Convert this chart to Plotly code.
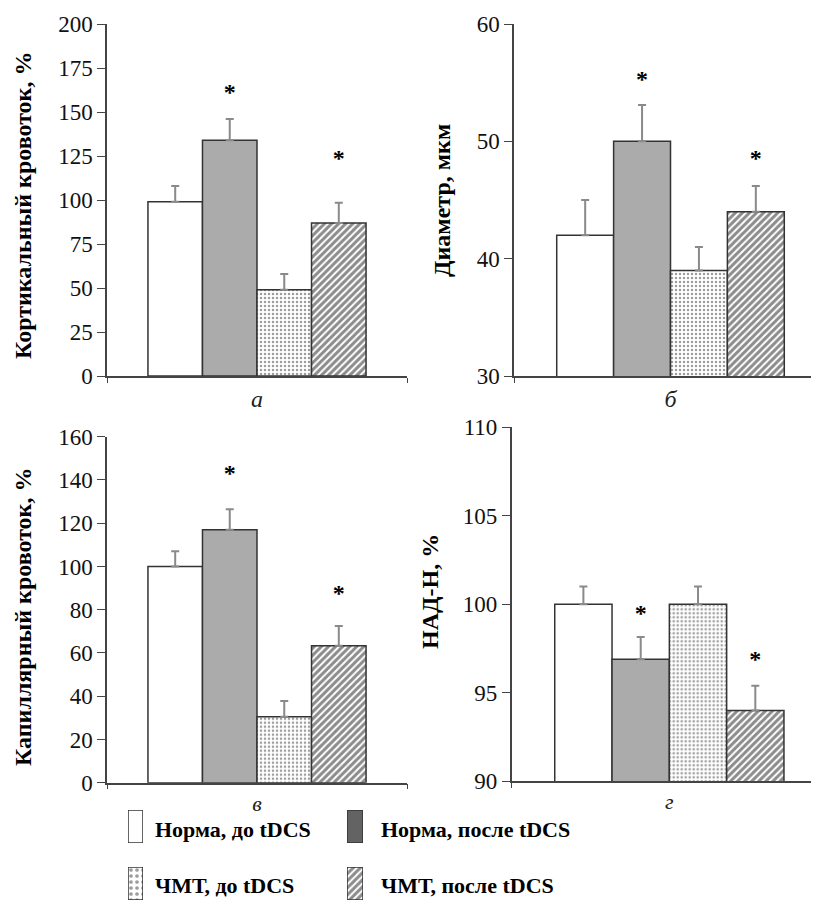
import plotly.graph_objects as go

W, H = 819, 903
OFF = 8  # page body margin in the browser

series_names = ["Норма, до tDCS", "Норма, после tDCS", "ЧМТ, до tDCS", "ЧМТ, после tDCS"]

# Panel а – cortical blood flow
cort_vals = [99, 134, 49, 87]
cort_err = [9, 12, 9, 11.5]
cort_star = [None, 160, None, 122.5]

# Panel б – diameter
diam_vals = [42, 50, 39, 44]
diam_err = [3, 3.1, 2, 2.2]
diam_star = [None, 55.1, None, 48.4]

# Panel в – capillary blood flow
cap_vals = [100, 117, 30.5, 63.3]
cap_err = [7, 9.5, 7.3, 9.2]
cap_star = [None, 142.3, None, 87]

# Panel г – NADH
nad_vals = [100, 96.9, 100, 94]
nad_err = [1, 1.25, 1, 1.4]
nad_star = [None, 99.4, None, 96.8]

panel_labels = ["а", "б", "в", "г"]
y_titles = ["Кортикальный кровоток, %", "Диаметр, мкм", "Капиллярный кровоток, %", "НАД-Н, %"]
y_ranges = [[0, 200], [30, 60], [0, 160], [90, 110]]
y_dticks = [25, 10, 20, 5]

FONT = "Liberation Serif, Times New Roman, DejaVu Serif, serif"
EDGE = "#333333"
styles = [
    dict(color="white", pattern=None),
    dict(color="#ababab", pattern=None),
    dict(color="white", pattern=dict(shape=".", fgcolor="#3a3a3a", bgcolor="white", size=4, solidity=0.3)),
    dict(color="white", pattern=dict(shape="/", fgcolor="#1a1a1a", bgcolor="white", size=5, solidity=0.6)),
]
legend_colors = ["white", "#636363", "white", "white"]

panels = [
    (cort_vals, cort_err, cort_star),
    (diam_vals, diam_err, diam_star),
    (cap_vals, cap_err, cap_star),
    (nad_vals, nad_err, nad_star),
]


def px(v):
    return v / W


def py(v):
    return 1 - v / H


# geometry (pixels in the screenshot)
x_dom_px = [(107, 407), (514, 827), (107, 407), (511.7, 827)]
y_dom_px = [(24, 376), (24, 376), (436.7, 782.7), (427.3, 781.3)]
x_ranges = [[-0.5, 0.5], [-0.5, 0.5], [-0.5, 0.5], [-0.5, 0.5]]

fig = go.Figure()

for p, (vals, errs, stars) in enumerate(panels):
    ax = "" if p == 0 else str(p + 1)
    for i in range(4):
        st = styles[i]
        marker = dict(color=st["color"], line=dict(color=EDGE, width=1.5))
        if st["pattern"]:
            marker["pattern"] = st["pattern"]
        fig.add_trace(go.Bar(
            x=[panel_labels[p]], y=[vals[i]], name=series_names[i],
            marker=marker, offsetgroup=str(i), showlegend=False,
            error_y=dict(type="data", array=[errs[i]], arrayminus=[0], symmetric=False,
                         color="#8a8a8a", thickness=2, width=4),
            xaxis="x" + ax, yaxis="y" + ax,
        ))
    for i in range(4):
        fig.add_trace(go.Scatter(
            x=[panel_labels[p]], y=[stars[i]], mode="text", text=["*"],
            textfont=dict(family=FONT, size=24, color="black", weight="bold"),
            offsetgroup=str(i), showlegend=False, hoverinfo="skip",
            xaxis="x" + ax, yaxis="y" + ax,
        ))

layout = dict(
    width=W, height=H, margin=dict(l=0, r=0, t=0, b=0, autoexpand=False),
    paper_bgcolor="white", plot_bgcolor="white",
    barmode="group", bargap=0.273, bargroupgap=0,
    scattermode="group", scattergap=0.273,
    font=dict(family=FONT, color="black"),
    showlegend=False,
)

annotations = []
for p in range(4):
    ax = "" if p == 0 else str(p + 1)
    x0, x1 = x_dom_px[p]
    y0, y1 = y_dom_px[p]
    layout["xaxis" + ax] = dict(
        domain=[px(x0 - OFF), px(x1 - OFF)], range=x_ranges[p], type="category",
        showline=True, linecolor="#444444", linewidth=1.5,
        ticks="outside", tickson="boundaries", ticklen=5, tickcolor="#444444",
        tickfont=dict(family=FONT, size=24 if p < 2 else 22, style="italic", color="#222222"),
        showgrid=False, zeroline=False, anchor="y" + ax, fixedrange=True, automargin=False,
    )
    layout["yaxis" + ax] = dict(
        domain=[py(y1 - OFF), py(y0 - OFF)], range=y_ranges[p], dtick=y_dticks[p],
        tick0=y_ranges[p][0],
        showline=True, linecolor="#444444", linewidth=1.5,
        ticks="outside", ticklen=8, tickcolor="#444444",
        tickfont=dict(family=FONT, size=23, color="#111111"),
        showgrid=False, zeroline=False, anchor="x" + ax, automargin=False,
    )

# y-axis titles
ytitle_pos = [(23, 206), (442, 201), (23, 617), (430, 591)]
for p in range(4):
    xp, yp = ytitle_pos[p]
    annotations.append(dict(
        text=y_titles[p], xref="paper", yref="paper", x=px(xp - OFF), y=py(yp - OFF),
        showarrow=False, textangle=-90, xanchor="center", yanchor="middle",
        font=dict(family=FONT, size=24, color="black", weight="bold"),
    ))

# legend swatches as tiny axes with one bar each
sw_px = [((128, 143), (810, 843)), ((347, 363), (810, 843)),
         ((128, 143), (867, 900)), ((347, 363), (867, 900))]
txt_px = [(153, 829), (379, 829), (153, 885), (379, 885)]
for i in range(4):
    n = str(5 + i)
    (sx0, sx1), (sy0, sy1) = sw_px[i]
    st = styles[i]
    marker = dict(color=legend_colors[i], line=dict(color=EDGE, width=1.5))
    if st["pattern"]:
        pat = dict(st["pattern"])
        if pat["shape"] == ".":
            pat["size"] = 6
        marker["pattern"] = pat
    fig.add_trace(go.Bar(x=[0], y=[1], width=[1], marker=marker, showlegend=False,
                         hoverinfo="skip", cliponaxis=False, xaxis="x" + n, yaxis="y" + n))
    layout["xaxis" + n] = dict(domain=[px(sx0 - OFF), px(sx1 - OFF)], range=[-0.5, 0.5],
                               visible=False, anchor="y" + n, fixedrange=True, automargin=False)
    layout["yaxis" + n] = dict(domain=[py(sy1 - OFF), py(sy0 - OFF)], range=[0, 1],
                               visible=False, anchor="x" + n, fixedrange=True, automargin=False)
    tx, ty = txt_px[i]
    annotations.append(dict(
        text=series_names[i], xref="paper", yref="paper", x=px(tx - OFF), y=py(ty - OFF),
        showarrow=False, xanchor="left", yanchor="middle",
        font=dict(family=FONT, size=22, color="black", weight="bold"),
    ))

layout["annotations"] = annotations
fig.update_layout(**layout)
fig.write_html("out.html")
